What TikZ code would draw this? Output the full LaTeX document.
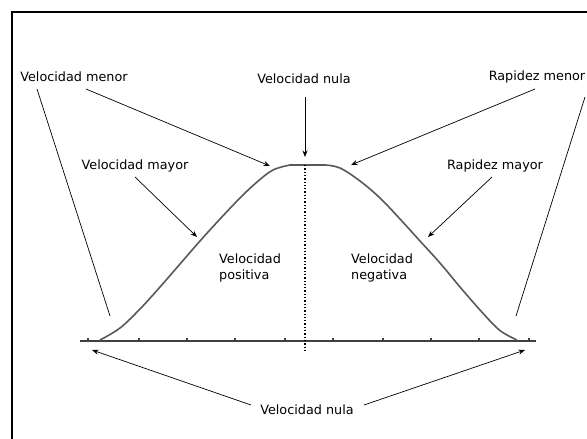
\documentclass[tikz,border=0pt]{standalone}
\usepackage{fontspec}
\setmainfont{DejaVu Sans}
\usetikzlibrary{arrows.meta}
\begin{document}
\begin{tikzpicture}[x=1pt,y=-1pt,
  lbl/.style={inner sep=0pt,font=\fontsize{12.8}{16}\selectfont},
  conn/.style={line width=0.7pt,black},
  arr/.style={conn,-{Stealth[length=6.5pt,width=5pt]}},
  curveline/.style={line width=1.6pt,gray!70!black,line join=round},
  axisline/.style={line width=2.6pt,black!75},
  tickmark/.style={line width=1.2pt,black!75}]
\clip (0,0) rectangle (587,439);
% frame (cropped at right and bottom)
\draw[line width=2pt] (12,460) -- (12,12) -- (610,12);
% axis
\coordinate (axL) at (80,341);
\coordinate (axR) at (536,341);
\draw[axisline] (axL) -- (axR);
\foreach \tx in {88,139,187,235,285,333,383,431,479,529}
  \draw[tickmark] (\tx,341) -- (\tx,337.5);
% curve
\draw[curveline] plot[smooth,tension=0.6] coordinates {
  (100,340) (120,328) (140,309) (160,287) (180,264) (200,241) (220,219)
  (240,198) (257,182) (273,170) (290,165)} -- (325,165)
  plot[smooth,tension=0.6] coordinates {(325,165) (340,168) (360,181)
  (380,198) (400,219) (420,241) (440,263) (460,287) (480,310) (497,328)
  (507,335) (517,340)};
% dotted centre line
\coordinate (dtop) at (305,165);
\coordinate (dbot) at (305,352);
\draw[line width=1.3pt,dotted] (dtop) -- (dbot);
% labels
\node[lbl] (vmenor) at (74,77) {Velocidad menor};
\node[lbl] (vnulat) at (304,79) {Velocidad nula};
\node[lbl] (rmenor) at (537,77) {Rapidez menor};
\node[lbl] (vmayor) at (135,166) {Velocidad mayor};
\node[lbl] (rmayor) at (495,166) {Rapidez mayor};
\node[lbl,anchor=west,align=left] (vpos) at (219,268) {Velocidad\\positiva};
\node[lbl,anchor=west,align=left] (vneg) at (351,268) {Velocidad\\negativa};
\node[lbl] (vnulab) at (307,410) {Velocidad nula};
% connector end points
\coordinate (s1) at (86,89);   \coordinate (t1) at (270,166);
\coordinate (s2) at (37,89);   \coordinate (t2) at (110,316);
\coordinate (s3) at (135,177); \coordinate (t3) at (197,237);
\coordinate (s4) at (305,97);  \coordinate (t4) at (305,157);
\coordinate (s5) at (535,89);  \coordinate (t5) at (351,165);
\coordinate (s6) at (585,97);  \coordinate (t6) at (516,316);
\coordinate (s7) at (492,177); \coordinate (t7) at (428,237);
\coordinate (s8) at (251,405); \coordinate (t8) at (92,350);
\coordinate (s9) at (364,405); \coordinate (t9) at (525,350);
% connectors
\draw[arr] (s1) -- (t1);
\draw[conn] (s2) -- (t2);
\draw[arr] (s3) -- (t3);
\draw[arr] (s4) -- (t4);
\draw[arr] (s5) -- (t5);
\draw[conn] (s6) -- (t6);
\draw[arr] (s7) -- (t7);
\draw[arr] (s8) -- (t8);
\draw[arr] (s9) -- (t9);
\end{tikzpicture}
\end{document}
